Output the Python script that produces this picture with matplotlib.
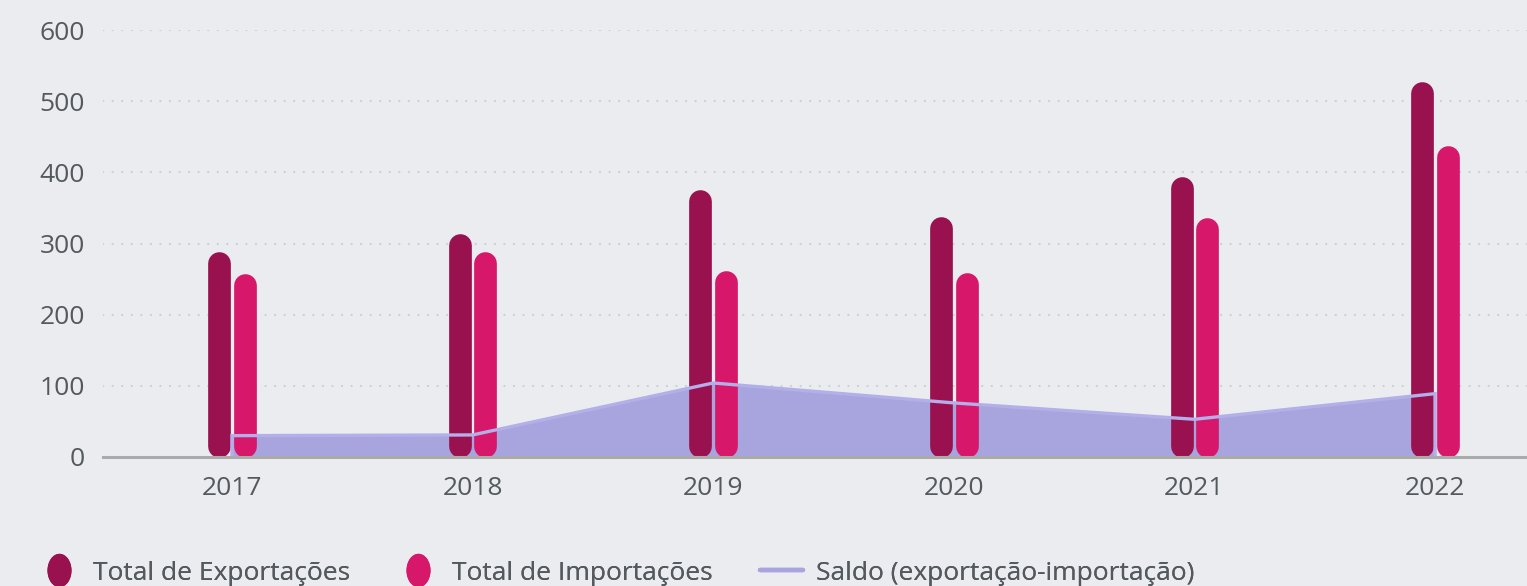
"""
Exportações x Importações (2017-2022) with saldo area.
"""

import matplotlib
matplotlib.use("Agg")
import matplotlib.pyplot as plt
from matplotlib.lines import Line2D
from matplotlib.path import Path
from matplotlib.transforms import Affine2D
import numpy as np

# data
years = ["2017", "2018", "2019", "2020", "2021", "2022"]
exports = [288, 314, 375, 338, 394, 528]
imports = [258, 288, 262, 259, 337, 438]
saldo = [30, 31, 104, 76, 53, 89]
y_ticks = [0, 100, 200, 300, 400, 500, 600]

# colours
BG = "#ebecf0"
EXP_C = "#99124f"
IMP_C = "#d6176a"
AREA_C = "#a8a4de"
LINE_C = "#b3afe8"
TEXT_C = "#53595c"
GRID_C = "#cdd0d5"

plt.rcParams["font.family"] = ["Open Sans", "DejaVu Sans"]

W, H, DPI = 1527, 586, 100
fig = plt.figure(figsize=(W / DPI, H / DPI), dpi=DPI, facecolor=BG)

left, right = 103 / W, 1.0
bottom, top = 1 - 457 / H, 1 - 30 / H
ax = fig.add_axes([left, bottom, right - left, top - bottom], facecolor=BG)

x = np.arange(len(years))
ax.set_xlim(-0.536, len(years) - 1 + 0.382)
ax.set_ylim(0, 600)

# pixel scale for the rounded bars
px_per_unit = (top - bottom) * H / 600
bar_px = 22.7
bar_lw = bar_px * 72 / DPI
r = (bar_px / 2) / px_per_unit
off = 0.053

# saldo area behind bars
ax.fill_between(x, saldo, 0, color=AREA_C, linewidth=0, zorder=1)

for xi, v in zip(x, exports):
    ax.plot([xi - off, xi - off], [r, v - r], color=EXP_C, lw=bar_lw,
            solid_capstyle="round", zorder=2)
for xi, v in zip(x, imports):
    ax.plot([xi + off, xi + off], [r, v - r], color=IMP_C, lw=bar_lw,
            solid_capstyle="round", zorder=2)

# saldo outline on top of bars
ox = np.concatenate([[x[0]], x, [x[-1]]])
oy = np.concatenate([[0], saldo, [0]])
ax.plot(ox, oy, color=LINE_C, lw=2.4, zorder=3, solid_joinstyle="miter")

# grid
for yv in y_ticks[1:]:
    ax.axhline(yv, color=GRID_C, lw=1.6, linestyle=(0, (0.1, 4.2)),
               dash_capstyle="round", zorder=0)

for s in ["top", "right", "left"]:
    ax.spines[s].set_visible(False)
ax.spines["bottom"].set_color("#aaaaaa")
ax.spines["bottom"].set_linewidth(2.2)
ax.spines["bottom"].set_zorder(4)

ax.set_xticks(x)
ax.set_xticklabels(years)
ax.set_yticks(y_ticks)
ax.tick_params(axis="x", length=0, pad=14, labelsize=19, labelcolor=TEXT_C)
ax.tick_params(axis="y", length=0, pad=13, labelsize=19, labelcolor=TEXT_C)

# legend: three single-entry legends placed along the bottom
oval = Path.unit_circle().transformed(Affine2D().scale(0.72, 1.0))
entries = [
    (Line2D([], [], linestyle="none", marker=oval, markersize=24,
            markerfacecolor=EXP_C, markeredgewidth=0),
     "Total de Exportações", 40, 1.45, 0.55),
    (Line2D([], [], linestyle="none", marker=oval, markersize=24,
            markerfacecolor=IMP_C, markeredgewidth=0),
     "Total de Importações", 399, 1.45, 0.55),
    (Line2D([], [], color=AREA_C, lw=3.2, solid_capstyle="round"),
     "Saldo (exportação-importação)", 760, 1.63, 0.5),
]
for handle, label, px, hl, tp in entries:
    leg = fig.legend([handle], [label], loc="center left",
                     bbox_to_anchor=(px / W, 1 - 573 / H), frameon=False,
                     fontsize=19, borderpad=0, borderaxespad=0,
                     handlelength=hl, handletextpad=tp, labelcolor=TEXT_C)
    fig.add_artist(leg)

fig.savefig("out.png", dpi=DPI, facecolor=BG)
